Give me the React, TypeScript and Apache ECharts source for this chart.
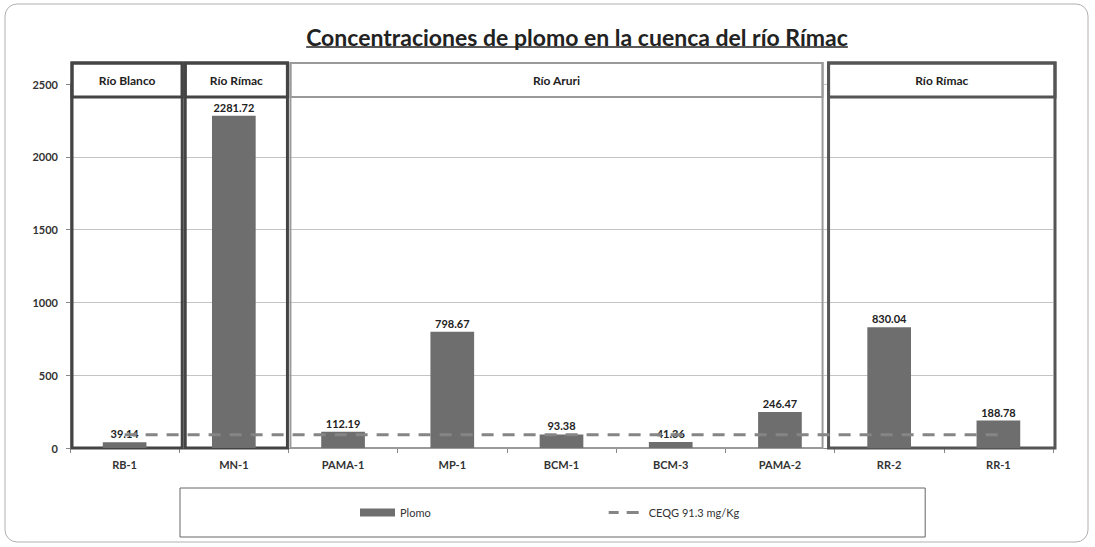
import React, { useEffect, useRef } from "react";
import * as echarts from "echarts";

const categories = ["RB-1", "MN-1", "PAMA-1", "MP-1", "BCM-1", "BCM-3", "PAMA-2", "RR-2", "RR-1"];
const plomo = [39.14, 2281.72, 112.19, 798.67, 93.38, 41.36, 246.47, 830.04, 188.78];
const ceqg = [91.3, 91.3, 91.3, 91.3, 91.3, 91.3, 91.3, 91.3, 91.3];
const groupNames = ["Río Blanco", "Río Rímac", "Río Aruri", "Río Rímac"];
const groupStart = [0, 1, 2, 7];
const groupEnd = [0, 1, 6, 8];
const yMin = 0;
const yMax = 2500;
const yInterval = 500;

const titleText = "Concentraciones de plomo en la cuenca del río Rímac";
const FONT = "Lato, 'Open Sans', sans-serif";

// presentation-only tweaks for the region boxes (pixel insets / strokes)
const boxInsets = [[2, 3], [6, -1], [2, -12], [-6, 2]];
const boxStroke = ["#444", "#444", "#9a9a9a", "#555"];
const boxWidth = [3, 3, 2, 3];

// dashed legend icon (35 x 8 box, two dashes)
const dashIcon =
  "path://M0,0h0.01v0.01h-0.01z M0,2.5h10v3h-10z M18,2.5h12v3h-12z M34.99,7.99h0.01v0.01h-0.01z";

export default function App() {
  const ref = useRef<HTMLDivElement>(null);
  useEffect(() => {
    const chart = echarts.init(ref.current!, null, { renderer: "svg" });

    const titleFont = "bold 23px Lato";
    let tw = 540;
    try {
      const c = document.createElement("canvas").getContext("2d")!;
      c.font = titleFont;
      tw = c.measureText(titleText).width;
    } catch (e) {}
    const tcx = 577;

    const groupData = groupStart.map((s, i) => [s, groupEnd[i], i]);

    chart.setOption({
      animation: false,
      backgroundColor: "#fff",
      textStyle: { fontFamily: FONT },
      grid: { left: 70, right: 42, top: 84, bottom: 99, containLabel: false },
      xAxis: {
        type: "category",
        data: categories,
        axisLine: { lineStyle: { color: "#888", width: 1 } },
        axisTick: { show: true, length: 5, lineStyle: { color: "#888" } },
        axisLabel: { color: "#333", fontWeight: "bold", fontSize: 11, margin: 11, fontFamily: FONT },
      },
      yAxis: {
        type: "value",
        min: yMin,
        max: yMax,
        interval: yInterval,
        axisLine: { show: true, lineStyle: { color: "#888" } },
        axisTick: { show: true, length: 4, lineStyle: { color: "#888" } },
        axisLabel: {
          color: "#333",
          fontWeight: "bold",
          fontSize: 11,
          margin: 12,
          fontFamily: FONT,
          formatter: (v: number) => String(v),
        },
        splitLine: { lineStyle: { color: "#c4c4c4", width: 1 } },
      },
      legend: {
        left: 180,
        top: 488,
        padding: [19, 186, 19, 180],
        borderColor: "#666",
        borderWidth: 1,
        itemGap: 178,
        itemWidth: 35,
        itemHeight: 8,
        textStyle: { color: "#333", fontSize: 11, fontFamily: FONT },
        data: [
          { name: "Plomo", icon: "rect" },
          { name: "CEQG 91.3 mg/Kg", icon: dashIcon },
        ],
      },
      graphic: [
        {
          type: "rect",
          shape: { x: 5, y: 4, width: 1083, height: 538, r: 12 },
          style: { fill: "none", stroke: "#b0b0b0", lineWidth: 1 },
          z: -10,
          silent: true,
        },
        {
          type: "text",
          x: tcx,
          y: 37,
          style: {
            text: titleText,
            font: titleFont,
            fill: "#222",
            textAlign: "center",
            textVerticalAlign: "middle",
          },
        },
        {
          type: "line",
          shape: { x1: tcx - tw / 2, y1: 47, x2: tcx + tw / 2, y2: 47 },
          style: { stroke: "#222", lineWidth: 1.5 },
        },
      ],
      series: [
        {
          type: "custom",
          name: "regions",
          z: 1,
          silent: true,
          clip: false,
          data: groupData,
          renderItem: (params: any, api: any) => {
            const s = api.value(0);
            const e = api.value(1);
            const gi = api.value(2);
            const bw = api.size([1, 0])[0];
            const x0 = api.coord([s, yMax])[0] - bw / 2 + boxInsets[gi][0];
            const x1 = api.coord([e, yMax])[0] + bw / 2 + boxInsets[gi][1];
            const yTop = api.coord([s, yMax])[1] - 21;
            const yBot = api.coord([s, yMin])[1];
            const hdr = 34;
            return {
              type: "group",
              children: [
                {
                  type: "rect",
                  shape: { x: x0, y: yTop, width: x1 - x0, height: hdr },
                  style: { fill: "#fff", stroke: boxStroke[gi], lineWidth: boxWidth[gi] },
                },
                {
                  type: "rect",
                  shape: { x: x0, y: yTop, width: x1 - x0, height: yBot - yTop },
                  style: { fill: "none", stroke: boxStroke[gi], lineWidth: boxWidth[gi] },
                },
                {
                  type: "text",
                  x: (x0 + x1) / 2,
                  y: yTop + hdr / 2,
                  style: {
                    text: groupNames[gi],
                    font: "bold 12px Lato",
                    fill: "#222",
                    textAlign: "center",
                    textVerticalAlign: "middle",
                  },
                },
              ],
            };
          },
        },
        {
          type: "bar",
          name: "Plomo",
          z: 2,
          data: plomo,
          barWidth: "40%",
          itemStyle: { color: "#6e6e6e" },
          label: {
            show: true,
            position: "top",
            distance: 3,
            color: "#222",
            fontWeight: "bold",
            fontSize: 11,
            fontFamily: FONT,
          },
        },
        {
          type: "line",
          name: "CEQG 91.3 mg/Kg",
          z: 3,
          data: ceqg,
          symbol: "none",
          lineStyle: { color: "#858585", width: 3, type: [12, 9] },
          itemStyle: { color: "#858585" },
        },
      ],
    });
    return () => chart.dispose();
  }, []);
  return (
    <div
      ref={ref}
      style={{ position: "fixed", left: 0, top: 0, width: 1095, height: 547 }}
    />
  );
}
